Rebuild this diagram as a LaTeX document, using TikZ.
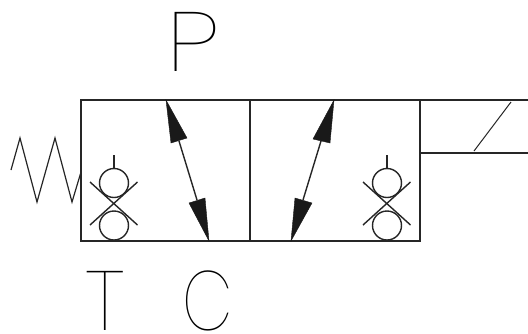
\documentclass[tikz,border=0pt]{standalone}
\usepackage{fontspec}
\newfontfamily\thinf{Poppins Thin}
\tikzset{
  frame/.style={draw=black!85,line width=1.7pt},
  thin line/.style={draw=black!85,line width=1.2pt},
  head/.style={fill=black!90,draw=black!90,line width=.4pt,line join=miter},
  letter/.style={inner sep=0pt,font=\thinf\fontsize{84}{84}\selectfont,text=black,anchor=center}
}
\newcommand{\checkpair}[1]{%
  \begin{scope}[shift={(#1,0)}]
    \draw[thin line] (0,-155)--(0,-168);
    \draw[thin line,line width=1.4pt] (0,-183) circle (14.5);
    \draw[thin line,line width=1.4pt] (0,-225.5) circle (14.5);
    \draw[thin line,line width=1.4pt] (-24,-182)--(23.5,-225);
    \draw[thin line,line width=1.4pt] (23.5,-182)--(-24,-225);
  \end{scope}}
\begin{document}
\begin{tikzpicture}[x=1pt,y=1pt]
\useasboundingbox (0,0) rectangle (528,-333);
\fill[white] (0,0) rectangle (528,-333);
% body
\draw[frame] (81,-100) rectangle (420,-241);
\draw[frame] (250,-100)--(250,-241);
% solenoid
\draw[frame,line width=1.4pt] (420,-100)--(528,-100);
\draw[frame,line width=1.4pt] (420,-153)--(528,-153);
\draw[thin line,line width=1pt] (474,-151)--(511,-102);
% spring
\draw[thin line,line join=miter] (11,-170)--(20,-138)--(37,-202)--(55,-138)--(72,-202)--(81,-172);
% arrows
\draw[thin line,line width=1.4pt] (179,-141)--(197,-200);
\fill[head] (166,-100)--(171,-143)--(187,-138)--cycle;
\fill[head] (209,-241)--(189,-203)--(205,-198)--cycle;
\draw[thin line,line width=1.4pt] (321,-141)--(303,-200);
\fill[head] (334,-100)--(313,-139)--(330,-143)--cycle;
\fill[head] (291,-241)--(295,-198)--(312,-203)--cycle;
% check valves
\checkpair{114}
\checkpair{387}
% letters
\node[letter,xscale=1.2] (portP) at (193.5,-41.5) {P};
\node[letter] (portT) at (105.5,-301) {T};
\node[letter,xscale=.78] (portC) at (207.5,-301) {C};
\end{tikzpicture}
\end{document}
